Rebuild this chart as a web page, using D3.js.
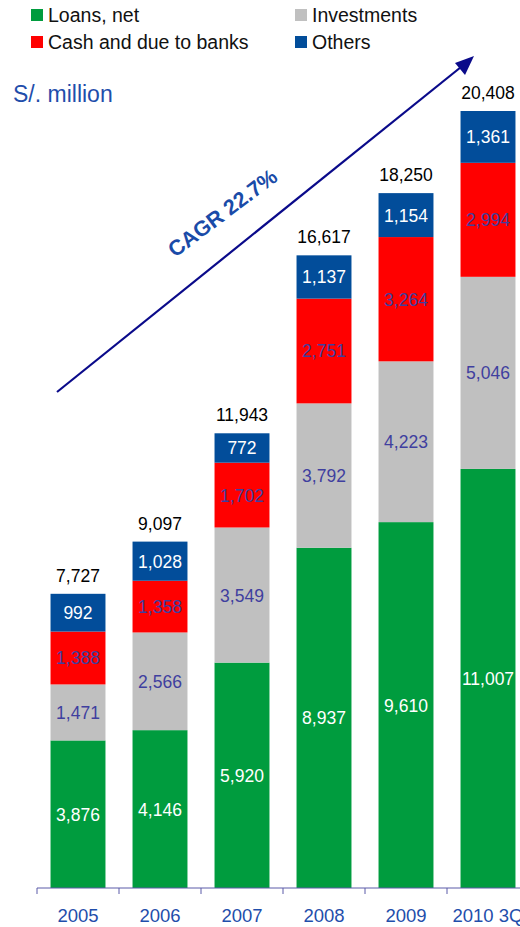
<!DOCTYPE html>
<html>
<head>
<meta charset="utf-8">
<script src="https://cdn.jsdelivr.net/npm/d3@7/dist/d3.min.js"></script>
<style>
  html, body { margin: 0; padding: 0; background: #fff; }
  svg { display: block; font-family: "Liberation Sans", Arial, sans-serif; }
</style>
</head>
<body>
<svg id="chart" width="520" height="927"></svg>
<script>
// Total assets by component, S/. million
const years = ["2005", "2006", "2007", "2008", "2009", "2010 3Q"];
const loans = [3876, 4146, 5920, 8937, 9610, 11007];
const investments = [1471, 2566, 3549, 3792, 4223, 5046];
const cash = [1388, 1358, 1702, 2751, 3264, 2994];
const others = [992, 1028, 772, 1137, 1154, 1361];
const totals = [7727, 9097, 11943, 16617, 18250, 20408];

const seriesNames = ["Loans, net", "Investments", "Cash and due to banks", "Others"];
const seriesValues = [loans, investments, cash, others];
const seriesColors = ["#009C3E", "#C0C0C0", "#FF0000", "#024D9A"];
const labelColors = ["#FFFFFF", "#3F3F9F", "#3F3F9F", "#FFFFFF"];

const svg = d3.select("#chart");
const axisY = 888;

const x = d3.scaleBand().domain(years).range([37, 529])
  .paddingInner(0.33).paddingOuter(0.165);
const y = d3.scaleLinear().domain([0, 20408]).range([axisY, 111]);

// Stack the series bottom-up
const rows = years.map((yr, i) => {
  const r = { year: yr };
  seriesNames.forEach((s, k) => r[s] = seriesValues[k][i]);
  return r;
});
const stack = d3.stack().keys(seriesNames)(rows);

const layers = svg.append("g").selectAll("g").data(stack).join("g")
  .attr("fill", (d, k) => seriesColors[k]);
layers.selectAll("rect").data(d => d).join("rect")
  .attr("x", d => x(d.data.year))
  .attr("width", x.bandwidth())
  .attr("y", d => y(d[1]))
  .attr("height", d => y(d[0]) - y(d[1]));

// Segment value labels
stack.forEach((layer, k) => {
  svg.append("g").selectAll("text").data(layer).join("text")
    .attr("x", d => x(d.data.year) + x.bandwidth() / 2)
    .attr("y", d => (y(d[0]) + y(d[1])) / 2 + 6.5)
    .attr("text-anchor", "middle")
    .attr("font-size", 17.5)
    .attr("fill", labelColors[k])
    .text(d => d3.format(",")(d.data[layer.key]));
});

// Totals above bars
svg.append("g").selectAll("text").data(years).join("text")
  .attr("x", d => x(d) + x.bandwidth() / 2)
  .attr("y", (d, i) => y(totals[i]) - 12)
  .attr("text-anchor", "middle")
  .attr("font-size", 17.5)
  .attr("fill", "#000")
  .text((d, i) => d3.format(",")(totals[i]));

// Category axis
const axisG = svg.append("g").attr("transform", `translate(0,${axisY})`);
axisG.append("line").attr("x1", 37).attr("x2", 520)
  .attr("stroke", "#5A5AA8").attr("stroke-width", 1);
const stepW = x.step();
years.forEach((yr, i) => {
  const tx = x(yr) - stepW * x.paddingInner() / 2;
  axisG.append("line").attr("x1", tx).attr("x2", tx).attr("y1", 0).attr("y2", 6)
    .attr("stroke", "#5A5AA8");
});
axisG.selectAll("text.cat").data(years).join("text")
  .attr("class", "cat")
  .attr("x", d => x(d) + x.bandwidth() / 2)
  .attr("y", 34)
  .attr("text-anchor", "middle")
  .attr("font-size", 18.5)
  .attr("fill", "#1F4EAB")
  .text(d => d);

// Legend
const legendPos = [[31, 9], [295, 9], [31, 36], [295, 36]];
seriesNames.forEach((name, k) => {
  const [lx, ly] = legendPos[k];
  svg.append("rect").attr("x", lx).attr("y", ly).attr("width", 12).attr("height", 12)
    .attr("fill", seriesColors[k]);
  svg.append("text").attr("x", lx + 17).attr("y", ly + 13)
    .attr("font-size", 19.5).attr("fill", "#111").text(name);
});

// Unit label
svg.append("text").attr("x", 13).attr("y", 102)
  .attr("font-size", 23).attr("fill", "#1F4EAB").text("S/. million");

// Growth arrow with CAGR annotation
svg.append("line")
  .attr("x1", 57).attr("y1", 392).attr("x2", 466).attr("y2", 63)
  .attr("stroke", "#0A0A8A").attr("stroke-width", 2.2);
svg.append("path")
  .attr("d", "M474,56 L455,63 L465,75 Z")
  .attr("fill", "#0A0A8A");
svg.append("text")
  .attr("transform", "translate(175,258) rotate(-37)")
  .attr("text-anchor", "start")
  .attr("font-size", 21.5).attr("font-weight", "bold")
  .attr("fill", "#1A4BA8")
  .text("CAGR 22.7%");
</script>
</body>
</html>
